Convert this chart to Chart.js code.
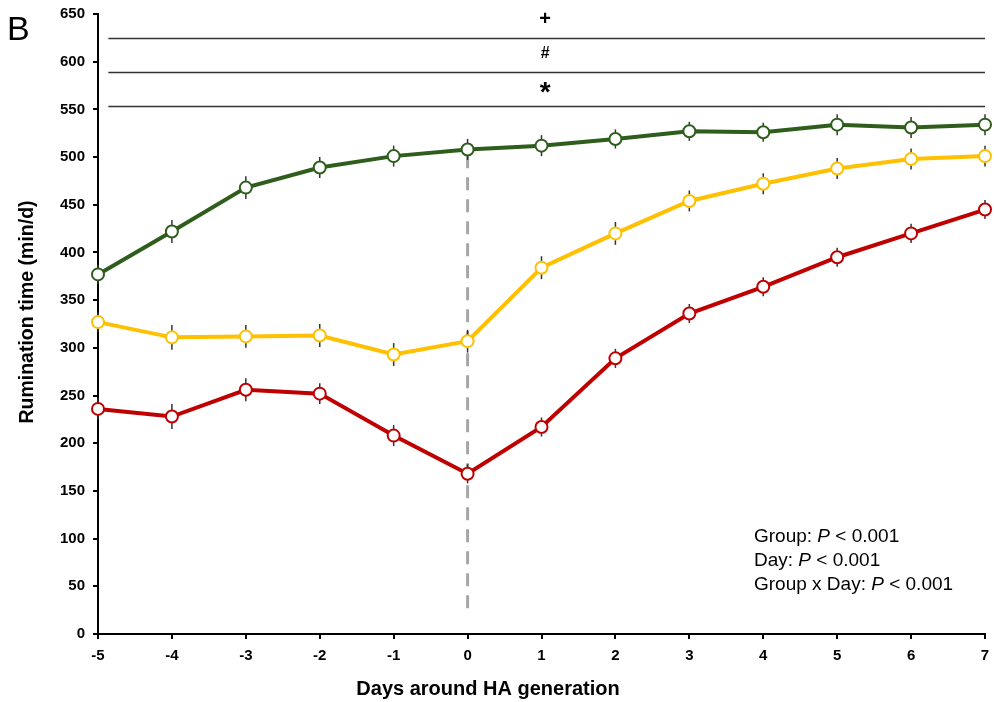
<!DOCTYPE html>
<html>
<head>
<meta charset="utf-8">
<script src="https://cdn.jsdelivr.net/npm/chart.js@4.4.1/dist/chart.umd.min.js"></script>
<style>
  html, body { margin: 0; padding: 0; background: #fff; }
  #wrap { width: 994px; height: 702px; }
</style>
</head>
<body>
<div id="wrap"><canvas id="rumChart" width="994" height="702"></canvas></div>
<script>
// days relative to HA generation
const days = [-5, -4, -3, -2, -1, 0, 1, 2, 3, 4, 5, 6, 7];

const greenVals  = [377, 422, 468, 489, 501, 508, 512, 519, 527, 526, 534, 531, 534];
const yellowVals = [327, 311, 312, 313, 293, 307, 384, 420, 454, 472, 488, 498, 501];
const redVals    = [236, 228, 256, 252, 208, 168, 217, 289, 336, 364, 395, 420, 445];

const greenErr  = [10, 12, 12, 11, 11, 11, 11, 10, 10, 10, 11, 11, 11];
const yellowErr = [10, 13, 12, 12, 12, 12, 12, 12, 11, 11, 11, 11, 11];
const redErr    = [11, 13, 12, 11, 11, 10, 10, 10, 10, 10, 10, 10, 10];

const yTicks = [0, 650, 50];   // min, max, step
const xTicks = [-5, 7, 1];

// significance bars: y level, symbol, x start / end, symbol x
const sigLevels  = [625, 589, 554];
const sigSymbols = ['+', '#', '*'];
const sigRange   = [-4.86, 7];
const sigSymbolX = 1.05;

const dashedLineX = 0;
const dashedRange = [20, 502];

const xTitle = 'Days around HA generation';
const yTitle = 'Rumination time (min/d)';

const statLines = [
    ['Group: ', 'P', ' < 0.001'],
    ['Day: ', 'P', ' < 0.001'],
    ['Group x Day: ', 'P', ' < 0.001']
];

const toPts = vals => vals.map((v, i) => ({ x: days[i], y: v }));

const extras = {
    id: 'extras',
    beforeDatasetsDraw(chart) {
        const ctx = chart.ctx;
        const xs = chart.scales.x, ys = chart.scales.y;
        ctx.save();
        // dashed line at day 0
        ctx.strokeStyle = '#a6a6a6';
        ctx.lineWidth = 3;
        ctx.setLineDash([13, 9]);
        ctx.beginPath();
        ctx.moveTo(xs.getPixelForValue(dashedLineX), ys.getPixelForValue(dashedRange[1]));
        ctx.lineTo(xs.getPixelForValue(dashedLineX), ys.getPixelForValue(dashedRange[0]));
        ctx.stroke();
        ctx.setLineDash([]);

        // significance lines
        ctx.strokeStyle = '#333';
        ctx.lineWidth = 1.5;
        ctx.fillStyle = '#000';
        ctx.textAlign = 'center';
        ctx.textBaseline = 'middle';
        sigLevels.forEach((lv, i) => {
            const py = Math.round(ys.getPixelForValue(lv)) + 0.5;
            ctx.beginPath();
            ctx.moveTo(xs.getPixelForValue(sigRange[0]), py);
            ctx.lineTo(xs.getPixelForValue(sigRange[1]), py);
            ctx.stroke();
            const sx = xs.getPixelForValue(sigSymbolX);
            const sy = py - 19;
            if (sigSymbols[i] === '*') {
                ctx.font = 'bold 28px "Liberation Sans", Arial, sans-serif';
                ctx.fillText(sigSymbols[i], sx, sy + 6);
            } else if (sigSymbols[i] === '#') {
                ctx.font = 'bold 16px "Liberation Sans", Arial, sans-serif';
                ctx.fillText(sigSymbols[i], sx, sy);
            } else {
                ctx.font = 'bold 20px "Liberation Sans", Arial, sans-serif';
                ctx.fillText(sigSymbols[i], sx, sy);
            }
        });

        // error bars
        ctx.strokeStyle = '#333';
        ctx.lineWidth = 1.5;
        chart.data.datasets.forEach(ds => {
            ds.data.forEach((p, i) => {
                const px = xs.getPixelForValue(p.x);
                const e = ds.errors[i];
                ctx.beginPath();
                ctx.moveTo(px, ys.getPixelForValue(p.y + e));
                ctx.lineTo(px, ys.getPixelForValue(p.y - e));
                ctx.stroke();
            });
        });
        ctx.restore();
    },
    afterDraw(chart) {
        const ctx = chart.ctx;
        ctx.save();
        ctx.fillStyle = '#000';
        ctx.textBaseline = 'alphabetic';
        ctx.textAlign = 'left';
        ctx.font = '34px "Liberation Sans", Arial, sans-serif';
        ctx.fillText('B', 7, 40);

        // axis titles
        ctx.textAlign = 'center';
        ctx.font = 'bold 20px "Liberation Sans", Arial, sans-serif';
        ctx.fillText(xTitle, 488, 695);
        ctx.save();
        ctx.translate(33, 312);
        ctx.rotate(-Math.PI / 2);
        ctx.font = 'bold 19.5px "Liberation Sans", Arial, sans-serif';
        ctx.fillText(yTitle, 0, 0);
        ctx.restore();

        ctx.textAlign = 'left';
        let y = 542;
        statLines.forEach(parts => {
            let x = 754;
            parts.forEach((t, j) => {
                ctx.font = (j === 1 ? 'italic ' : '') + '19px "Liberation Sans", Arial, sans-serif';
                ctx.fillText(t, x, y);
                x += ctx.measureText(t).width;
            });
            y += 24;
        });
        ctx.restore();
    }
};

const tickFont = { family: '"Liberation Sans", Arial, sans-serif', size: 15, weight: 'bold' };

function series(label, vals, errs, color) {
    return {
        label: label,
        data: toPts(vals),
        errors: errs,
        borderColor: color,
        backgroundColor: '#fff',
        borderWidth: 4,
        pointRadius: 6,
        pointBorderWidth: 2,
        pointBackgroundColor: '#fff',
        pointBorderColor: color,
        tension: 0,
        clip: false
    };
}

new Chart(document.getElementById('rumChart'), {
    type: 'line',
    data: {
        datasets: [
            series('Green', greenVals, greenErr, '#2e5d1c'),
            series('Yellow', yellowVals, yellowErr, '#ffc000'),
            series('Red', redVals, redErr, '#c00000')
        ]
    },
    options: {
        responsive: false,
        animation: false,
        events: [],
        layout: { padding: { left: 0, right: 9, top: 14, bottom: 0 } },
        plugins: {
            legend: { display: false },
            tooltip: { enabled: false }
        },
        scales: {
            x: {
                type: 'linear',
                min: xTicks[0],
                max: xTicks[1],
                afterFit: scale => {
                    scale.height = 68;
                    scale.paddingLeft = 0;
                    scale.paddingRight = 0;
                },
                ticks: { stepSize: xTicks[2], color: '#000', font: tickFont, padding: 8, maxRotation: 0 },
                grid: { drawOnChartArea: false, drawTicks: true, tickLength: 5, color: '#000', lineWidth: 2 },
                border: { color: '#000', width: 2 }
            },
            y: {
                min: yTicks[0],
                max: yTicks[1],
                afterFit: scale => {
                    scale.width = 98;
                    scale.paddingTop = 0;
                    scale.paddingBottom = 0;
                },
                ticks: { stepSize: yTicks[2], color: '#000', font: tickFont, padding: 8 },
                grid: { drawOnChartArea: false, drawTicks: true, tickLength: 5, color: '#000', lineWidth: 2 },
                border: { color: '#000', width: 2 }
            }
        }
    },
    plugins: [extras]
});
</script>
</body>
</html>
